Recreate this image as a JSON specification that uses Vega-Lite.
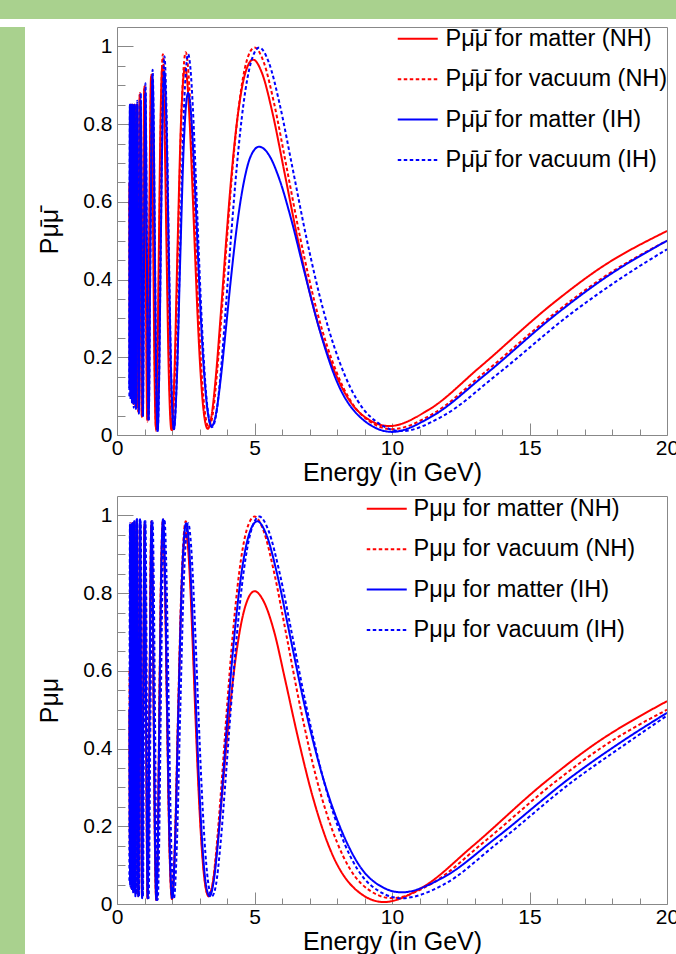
{
  "$schema": "https://vega.github.io/schema/vega-lite/v6.json",
  "background": "#ffffff",
  "padding": 0,
  "spacing": 7,
  "config": {
    "font": "Liberation Sans",
    "view": {"stroke": null},
    "axis": {"grid": false, "labelColor": "#000000", "titleColor": "#000000", "tickColor": "#888888", "tickWidth": 1, "domain": false, "labelFlush": false, "labelOverlap": false, "labelBound": false, "titleFontWeight": "normal", "labelFont": "Liberation Sans", "titleFont": "Liberation Sans"},
    "legend": {"title": null, "orient": "none", "symbolType": "M-4,0H4", "symbolSize": 100, "symbolStrokeWidth": 2, "labelFontSize": 23.5, "labelFont": "Liberation Sans", "labelColor": "#000000", "labelLimit": 400, "rowPadding": 15.4, "padding": 0}
  },
  "datasets": {
    "top": [
      {"s":"a","e":20,"p":0.525},{"s":"a","e":17.6,"p":0.431},{"s":"a","e":15.84,"p":0.338},{"s":"a","e":13.2,"p":0.175},{"s":"a","e":11.314,"p":0.064},{"s":"a","e":9.9,"p":0.023},{"s":"a","e":8.8,"p":0.059},{"s":"a","e":7.92,"p":0.162},{"s":"a","e":7.2,"p":0.314},{"s":"a","e":6.6,"p":0.495},{"s":"a","e":6.092,"p":0.675},{"s":"a","e":5.657,"p":0.828},{"s":"a","e":5.28,"p":0.93},{"s":"a","e":4.95,"p":0.966},{"s":"a","e":4.659,"p":0.93},{"s":"a","e":4.4,"p":0.827},{"s":"a","e":4.168,"p":0.673},{"s":"a","e":3.96,"p":0.491},{"s":"a","e":3.771,"p":0.309},{"s":"a","e":3.6,"p":0.155},{"s":"a","e":3.443,"p":0.052},{"s":"a","e":3.3,"p":0.016},{"s":"a","e":3.168,"p":0.051},{"s":"a","e":3.046,"p":0.152},{"s":"a","e":2.933,"p":0.303},{"s":"a","e":2.829,"p":0.481},{"s":"a","e":2.731,"p":0.658},{"s":"a","e":2.64,"p":0.809},{"s":"a","e":2.555,"p":0.91},{"s":"a","e":2.475,"p":0.945},{"s":"a","e":2.329,"p":0.809},{"s":"a","e":2.2,"p":0.479},{"s":"a","e":2.084,"p":0.149},{"s":"a","e":1.98,"p":0.013},{"s":"a","e":1.886,"p":0.15},{"s":"a","e":1.8,"p":0.482},{"s":"a","e":1.722,"p":0.813},{"s":"a","e":1.65,"p":0.95},{"s":"a","e":1.584,"p":0.813},{"s":"a","e":1.523,"p":0.485},{"s":"a","e":1.467,"p":0.156},{"s":"a","e":1.414,"p":0.02},{"s":"a","e":1.366,"p":0.152},{"s":"a","e":1.32,"p":0.47},{"s":"a","e":1.277,"p":0.788},{"s":"a","e":1.238,"p":0.92},{"s":"a","e":1.165,"p":0.48},{"s":"a","e":1.1,"p":0.04},{"s":"a","e":1.042,"p":0.465},{"s":"a","e":0.99,"p":0.89},{"s":"a","e":0.943,"p":0.47},{"s":"a","e":0.9,"p":0.05},{"s":"a","e":0.861,"p":0.46},{"s":"a","e":0.825,"p":0.875},{"s":"a","e":0.762,"p":0.07},{"s":"a","e":0.707,"p":0.85},{"s":"a","e":0.66,"p":0.09},{"s":"a","e":0.619,"p":0.85},{"s":"a","e":0.582,"p":0.1},{"s":"a","e":0.55,"p":0.85},{"s":"a","e":0.521,"p":0.11},{"s":"a","e":0.495,"p":0.85},{"s":"a","e":0.471,"p":0.13},{"s":"a","e":0.45,"p":0.65},
      {"s":"b","e":20,"p":0.5},{"s":"b","e":17.78,"p":0.41},{"s":"b","e":16,"p":0.318},{"s":"b","e":13.333,"p":0.159},{"s":"b","e":11.429,"p":0.052},{"s":"b","e":10,"p":0.015},{"s":"b","e":8.889,"p":0.052},{"s":"b","e":8,"p":0.159},{"s":"b","e":7.273,"p":0.318},{"s":"b","e":6.667,"p":0.506},{"s":"b","e":6.154,"p":0.694},{"s":"b","e":5.714,"p":0.853},{"s":"b","e":5.333,"p":0.96},{"s":"b","e":5,"p":0.997},{"s":"b","e":4.706,"p":0.96},{"s":"b","e":4.444,"p":0.853},{"s":"b","e":4.211,"p":0.694},{"s":"b","e":4,"p":0.506},{"s":"b","e":3.81,"p":0.318},{"s":"b","e":3.636,"p":0.159},{"s":"b","e":3.478,"p":0.052},{"s":"b","e":3.333,"p":0.02},{"s":"b","e":3.2,"p":0.057},{"s":"b","e":3.077,"p":0.161},{"s":"b","e":2.963,"p":0.318},{"s":"b","e":2.857,"p":0.5025},{"s":"b","e":2.759,"p":0.687},{"s":"b","e":2.667,"p":0.844},{"s":"b","e":2.581,"p":0.948},{"s":"b","e":2.5,"p":0.985},{"s":"b","e":2.353,"p":0.843},{"s":"b","e":2.222,"p":0.499},{"s":"b","e":2.105,"p":0.155},{"s":"b","e":2,"p":0.013},{"s":"b","e":1.905,"p":0.155},{"s":"b","e":1.818,"p":0.497},{"s":"b","e":1.739,"p":0.838},{"s":"b","e":1.667,"p":0.98},{"s":"b","e":1.6,"p":0.838},{"s":"b","e":1.538,"p":0.495},{"s":"b","e":1.481,"p":0.152},{"s":"b","e":1.429,"p":0.01},{"s":"b","e":1.379,"p":0.145},{"s":"b","e":1.333,"p":0.47},{"s":"b","e":1.29,"p":0.795},{"s":"b","e":1.25,"p":0.93},{"s":"b","e":1.176,"p":0.483},{"s":"b","e":1.111,"p":0.035},{"s":"b","e":1.053,"p":0.468},{"s":"b","e":1,"p":0.9},{"s":"b","e":0.952,"p":0.473},{"s":"b","e":0.909,"p":0.045},{"s":"b","e":0.87,"p":0.463},{"s":"b","e":0.833,"p":0.88},{"s":"b","e":0.769,"p":0.06},{"s":"b","e":0.714,"p":0.85},{"s":"b","e":0.667,"p":0.07},{"s":"b","e":0.625,"p":0.85},{"s":"b","e":0.588,"p":0.08},{"s":"b","e":0.556,"p":0.85},{"s":"b","e":0.526,"p":0.1},{"s":"b","e":0.5,"p":0.85},{"s":"b","e":0.476,"p":0.12},{"s":"b","e":0.455,"p":0.6},
      {"s":"c","e":20,"p":0.5},{"s":"c","e":17.78,"p":0.406},{"s":"c","e":16,"p":0.3125},{"s":"c","e":13.333,"p":0.152},{"s":"c","e":11.429,"p":0.047},{"s":"c","e":10,"p":0.008},{"s":"c","e":8.889,"p":0.043},{"s":"c","e":8,"p":0.137},{"s":"c","e":7.364,"p":0.271},{"s":"c","e":6.817,"p":0.419},{"s":"c","e":6.331,"p":0.556},{"s":"c","e":5.907,"p":0.658},{"s":"c","e":5.513,"p":0.722},{"s":"c","e":5.169,"p":0.742},{"s":"c","e":4.865,"p":0.718},{"s":"c","e":4.594,"p":0.644},{"s":"c","e":4.353,"p":0.533},{"s":"c","e":4.135,"p":0.397},{"s":"c","e":3.938,"p":0.258},{"s":"c","e":3.759,"p":0.137},{"s":"c","e":3.596,"p":0.053},{"s":"c","e":3.446,"p":0.023},{"s":"c","e":3.308,"p":0.055},{"s":"c","e":3.181,"p":0.146},{"s":"c","e":3.063,"p":0.283},{"s":"c","e":2.954,"p":0.447},{"s":"c","e":2.852,"p":0.612},{"s":"c","e":2.757,"p":0.752},{"s":"c","e":2.668,"p":0.847},{"s":"c","e":2.584,"p":0.88},{"s":"c","e":2.432,"p":0.753},{"s":"c","e":2.297,"p":0.448},{"s":"c","e":2.176,"p":0.142},{"s":"c","e":2.068,"p":0.015},{"s":"c","e":1.969,"p":0.15},{"s":"c","e":1.88,"p":0.475},{"s":"c","e":1.798,"p":0.8},{"s":"c","e":1.723,"p":0.935},{"s":"c","e":1.654,"p":0.8},{"s":"c","e":1.59,"p":0.473},{"s":"c","e":1.531,"p":0.145},{"s":"c","e":1.477,"p":0.01},{"s":"c","e":1.426,"p":0.143},{"s":"c","e":1.378,"p":0.465},{"s":"c","e":1.334,"p":0.787},{"s":"c","e":1.292,"p":0.92},{"s":"c","e":1.216,"p":0.48},{"s":"c","e":1.149,"p":0.04},{"s":"c","e":1.088,"p":0.46},{"s":"c","e":1.034,"p":0.88},{"s":"c","e":0.985,"p":0.465},{"s":"c","e":0.94,"p":0.05},{"s":"c","e":0.899,"p":0.455},{"s":"c","e":0.861,"p":0.86},{"s":"c","e":0.795,"p":0.06},{"s":"c","e":0.738,"p":0.85},{"s":"c","e":0.689,"p":0.07},{"s":"c","e":0.646,"p":0.85},{"s":"c","e":0.608,"p":0.08},{"s":"c","e":0.574,"p":0.85},{"s":"c","e":0.544,"p":0.09},{"s":"c","e":0.517,"p":0.85},{"s":"c","e":0.492,"p":0.1},{"s":"c","e":0.47,"p":0.85},{"s":"c","e":0.449,"p":0.12},
      {"s":"d","e":20,"p":0.478},{"s":"d","e":18.4,"p":0.407},{"s":"d","e":16.56,"p":0.315},{"s":"d","e":13.8,"p":0.1545},{"s":"d","e":11.829,"p":0.048},{"s":"d","e":10.35,"p":0.01},{"s":"d","e":9.2,"p":0.048},{"s":"d","e":8.28,"p":0.1545},{"s":"d","e":7.527,"p":0.315},{"s":"d","e":6.9,"p":0.5035},{"s":"d","e":6.369,"p":0.692},{"s":"d","e":5.914,"p":0.852},{"s":"d","e":5.52,"p":0.959},{"s":"d","e":5.175,"p":0.997},{"s":"d","e":4.871,"p":0.959},{"s":"d","e":4.6,"p":0.852},{"s":"d","e":4.358,"p":0.692},{"s":"d","e":4.14,"p":0.5035},{"s":"d","e":3.943,"p":0.315},{"s":"d","e":3.764,"p":0.1545},{"s":"d","e":3.6,"p":0.05},{"s":"d","e":3.45,"p":0.02},{"s":"d","e":3.312,"p":0.057},{"s":"d","e":3.185,"p":0.161},{"s":"d","e":3.067,"p":0.316},{"s":"d","e":2.957,"p":0.5},{"s":"d","e":2.855,"p":0.684},{"s":"d","e":2.76,"p":0.84},{"s":"d","e":2.671,"p":0.943},{"s":"d","e":2.588,"p":0.98},{"s":"d","e":2.435,"p":0.839},{"s":"d","e":2.3,"p":0.4975},{"s":"d","e":2.179,"p":0.156},{"s":"d","e":2.07,"p":0.015},{"s":"d","e":1.971,"p":0.156},{"s":"d","e":1.882,"p":0.495},{"s":"d","e":1.8,"p":0.835},{"s":"d","e":1.725,"p":0.975},{"s":"d","e":1.656,"p":0.834},{"s":"d","e":1.592,"p":0.4925},{"s":"d","e":1.533,"p":0.151},{"s":"d","e":1.479,"p":0.01},{"s":"d","e":1.428,"p":0.146},{"s":"d","e":1.38,"p":0.475},{"s":"d","e":1.335,"p":0.804},{"s":"d","e":1.294,"p":0.94},{"s":"d","e":1.218,"p":0.4875},{"s":"d","e":1.15,"p":0.035},{"s":"d","e":1.089,"p":0.47},{"s":"d","e":1.035,"p":0.905},{"s":"d","e":0.986,"p":0.475},{"s":"d","e":0.941,"p":0.045},{"s":"d","e":0.9,"p":0.4625},{"s":"d","e":0.863,"p":0.88},{"s":"d","e":0.796,"p":0.055},{"s":"d","e":0.739,"p":0.86},{"s":"d","e":0.69,"p":0.065},{"s":"d","e":0.647,"p":0.85},{"s":"d","e":0.609,"p":0.07},{"s":"d","e":0.575,"p":0.85},{"s":"d","e":0.545,"p":0.08},{"s":"d","e":0.518,"p":0.85},{"s":"d","e":0.493,"p":0.09},{"s":"d","e":0.47,"p":0.85},{"s":"d","e":0.45,"p":0.1}
    ],
    "bot": [
      {"s":"a","e":20,"p":0.522},{"s":"a","e":17.24,"p":0.405},{"s":"a","e":15.52,"p":0.311},{"s":"a","e":12.933,"p":0.149},{"s":"a","e":11.086,"p":0.042},{"s":"a","e":9.7,"p":0.005},{"s":"a","e":8.622,"p":0.041},{"s":"a","e":7.76,"p":0.139},{"s":"a","e":7.109,"p":0.278},{"s":"a","e":6.567,"p":0.4325},{"s":"a","e":6.108,"p":0.579},{"s":"a","e":5.714,"p":0.701},{"s":"a","e":5.333,"p":0.779},{"s":"a","e":5,"p":0.805},{"s":"a","e":4.706,"p":0.775},{"s":"a","e":4.444,"p":0.694},{"s":"a","e":4.211,"p":0.573},{"s":"a","e":4,"p":0.425},{"s":"a","e":3.81,"p":0.273},{"s":"a","e":3.636,"p":0.1415},{"s":"a","e":3.478,"p":0.052},{"s":"a","e":3.333,"p":0.02},{"s":"a","e":3.2,"p":0.053},{"s":"a","e":3.077,"p":0.149},{"s":"a","e":2.963,"p":0.296},{"s":"a","e":2.857,"p":0.475},{"s":"a","e":2.759,"p":0.656},{"s":"a","e":2.667,"p":0.814},{"s":"a","e":2.581,"p":0.919},{"s":"a","e":2.5,"p":0.955},{"s":"a","e":2.353,"p":0.817},{"s":"a","e":2.222,"p":0.484},{"s":"a","e":2.105,"p":0.151},{"s":"a","e":2,"p":0.013},{"s":"a","e":1.905,"p":0.154},{"s":"a","e":1.818,"p":0.494},{"s":"a","e":1.739,"p":0.834},{"s":"a","e":1.667,"p":0.975},{"s":"a","e":1.6,"p":0.834},{"s":"a","e":1.538,"p":0.4925},{"s":"a","e":1.481,"p":0.151},{"s":"a","e":1.429,"p":0.01},{"s":"a","e":1.379,"p":0.151},{"s":"a","e":1.333,"p":0.4925},{"s":"a","e":1.29,"p":0.834},{"s":"a","e":1.25,"p":0.975},{"s":"a","e":1.176,"p":0.495},{"s":"a","e":1.111,"p":0.015},{"s":"a","e":1.053,"p":0.4925},{"s":"a","e":1,"p":0.97},{"s":"a","e":0.952,"p":0.495},{"s":"a","e":0.909,"p":0.02},{"s":"a","e":0.87,"p":0.495},{"s":"a","e":0.833,"p":0.97},{"s":"a","e":0.769,"p":0.03},{"s":"a","e":0.714,"p":0.97},{"s":"a","e":0.667,"p":0.05},{"s":"a","e":0.625,"p":0.96},{"s":"a","e":0.588,"p":0.06},{"s":"a","e":0.556,"p":0.95},{"s":"a","e":0.526,"p":0.08},{"s":"a","e":0.5,"p":0.96},{"s":"a","e":0.476,"p":0.1},{"s":"a","e":0.455,"p":0.5},
      {"s":"b","e":20,"p":0.5},{"s":"b","e":17.78,"p":0.41},{"s":"b","e":16,"p":0.318},{"s":"b","e":13.333,"p":0.159},{"s":"b","e":11.429,"p":0.052},{"s":"b","e":10,"p":0.015},{"s":"b","e":8.889,"p":0.052},{"s":"b","e":8,"p":0.159},{"s":"b","e":7.273,"p":0.318},{"s":"b","e":6.667,"p":0.506},{"s":"b","e":6.154,"p":0.694},{"s":"b","e":5.714,"p":0.853},{"s":"b","e":5.333,"p":0.96},{"s":"b","e":5,"p":0.997},{"s":"b","e":4.706,"p":0.96},{"s":"b","e":4.444,"p":0.853},{"s":"b","e":4.211,"p":0.694},{"s":"b","e":4,"p":0.506},{"s":"b","e":3.81,"p":0.318},{"s":"b","e":3.636,"p":0.159},{"s":"b","e":3.478,"p":0.052},{"s":"b","e":3.333,"p":0.02},{"s":"b","e":3.2,"p":0.057},{"s":"b","e":3.077,"p":0.161},{"s":"b","e":2.963,"p":0.318},{"s":"b","e":2.857,"p":0.5025},{"s":"b","e":2.759,"p":0.687},{"s":"b","e":2.667,"p":0.844},{"s":"b","e":2.581,"p":0.948},{"s":"b","e":2.5,"p":0.985},{"s":"b","e":2.353,"p":0.843},{"s":"b","e":2.222,"p":0.499},{"s":"b","e":2.105,"p":0.155},{"s":"b","e":2,"p":0.013},{"s":"b","e":1.905,"p":0.156},{"s":"b","e":1.818,"p":0.5015},{"s":"b","e":1.739,"p":0.847},{"s":"b","e":1.667,"p":0.99},{"s":"b","e":1.6,"p":0.8465},{"s":"b","e":1.538,"p":0.5},{"s":"b","e":1.481,"p":0.1535},{"s":"b","e":1.429,"p":0.01},{"s":"b","e":1.379,"p":0.153},{"s":"b","e":1.333,"p":0.4975},{"s":"b","e":1.29,"p":0.842},{"s":"b","e":1.25,"p":0.985},{"s":"b","e":1.176,"p":0.5},{"s":"b","e":1.111,"p":0.015},{"s":"b","e":1.053,"p":0.4975},{"s":"b","e":1,"p":0.98},{"s":"b","e":0.952,"p":0.5},{"s":"b","e":0.909,"p":0.02},{"s":"b","e":0.87,"p":0.5},{"s":"b","e":0.833,"p":0.98},{"s":"b","e":0.769,"p":0.02},{"s":"b","e":0.714,"p":0.985},{"s":"b","e":0.667,"p":0.025},{"s":"b","e":0.625,"p":0.985},{"s":"b","e":0.588,"p":0.03},{"s":"b","e":0.556,"p":0.98},{"s":"b","e":0.526,"p":0.04},{"s":"b","e":0.5,"p":0.98},{"s":"b","e":0.476,"p":0.06},{"s":"b","e":0.455,"p":0.6},
      {"s":"c","e":20,"p":0.492},{"s":"c","e":18.4,"p":0.42},{"s":"c","e":16.56,"p":0.329},{"s":"c","e":13.8,"p":0.171},{"s":"c","e":11.829,"p":0.067},{"s":"c","e":10.35,"p":0.03},{"s":"c","e":9.2,"p":0.066},{"s":"c","e":8.28,"p":0.17},{"s":"c","e":7.491,"p":0.325},{"s":"c","e":6.833,"p":0.5075},{"s":"c","e":6.292,"p":0.69},{"s":"c","e":5.836,"p":0.845},{"s":"c","e":5.44,"p":0.949},{"s":"c","e":5.1,"p":0.985},{"s":"c","e":4.788,"p":0.948},{"s":"c","e":4.511,"p":0.844},{"s":"c","e":4.263,"p":0.687},{"s":"c","e":4.04,"p":0.5025},{"s":"c","e":3.848,"p":0.318},{"s":"c","e":3.673,"p":0.161},{"s":"c","e":3.513,"p":0.057},{"s":"c","e":3.367,"p":0.02},{"s":"c","e":3.22,"p":0.057},{"s":"c","e":3.096,"p":0.161},{"s":"c","e":2.981,"p":0.316},{"s":"c","e":2.875,"p":0.5},{"s":"c","e":2.776,"p":0.684},{"s":"c","e":2.683,"p":0.84},{"s":"c","e":2.597,"p":0.943},{"s":"c","e":2.516,"p":0.98},{"s":"c","e":2.362,"p":0.839},{"s":"c","e":2.231,"p":0.4975},{"s":"c","e":2.113,"p":0.156},{"s":"c","e":2.008,"p":0.015},{"s":"c","e":1.912,"p":0.158},{"s":"c","e":1.825,"p":0.5025},{"s":"c","e":1.746,"p":0.847},{"s":"c","e":1.673,"p":0.99},{"s":"c","e":1.606,"p":0.8465},{"s":"c","e":1.544,"p":0.5},{"s":"c","e":1.487,"p":0.1535},{"s":"c","e":1.434,"p":0.01},{"s":"c","e":1.384,"p":0.153},{"s":"c","e":1.338,"p":0.4975},{"s":"c","e":1.295,"p":0.842},{"s":"c","e":1.255,"p":0.985},{"s":"c","e":1.181,"p":0.5},{"s":"c","e":1.115,"p":0.015},{"s":"c","e":1.057,"p":0.5},{"s":"c","e":1.004,"p":0.985},{"s":"c","e":0.956,"p":0.5},{"s":"c","e":0.913,"p":0.015},{"s":"c","e":0.873,"p":0.5},{"s":"c","e":0.836,"p":0.99},{"s":"c","e":0.772,"p":0.02},{"s":"c","e":0.717,"p":0.99},{"s":"c","e":0.669,"p":0.02},{"s":"c","e":0.627,"p":0.985},{"s":"c","e":0.59,"p":0.03},{"s":"c","e":0.558,"p":0.98},{"s":"c","e":0.528,"p":0.04},{"s":"c","e":0.502,"p":0.97},{"s":"c","e":0.478,"p":0.05},{"s":"c","e":0.456,"p":0.5},
      {"s":"d","e":20,"p":0.485},{"s":"d","e":18.4,"p":0.407},{"s":"d","e":16.56,"p":0.315},{"s":"d","e":13.8,"p":0.1545},{"s":"d","e":11.829,"p":0.048},{"s":"d","e":10.35,"p":0.015},{"s":"d","e":9.2,"p":0.05},{"s":"d","e":8.28,"p":0.1545},{"s":"d","e":7.527,"p":0.315},{"s":"d","e":6.9,"p":0.5035},{"s":"d","e":6.369,"p":0.692},{"s":"d","e":5.914,"p":0.852},{"s":"d","e":5.52,"p":0.959},{"s":"d","e":5.175,"p":0.997},{"s":"d","e":4.871,"p":0.959},{"s":"d","e":4.6,"p":0.852},{"s":"d","e":4.358,"p":0.692},{"s":"d","e":4.14,"p":0.5035},{"s":"d","e":3.943,"p":0.315},{"s":"d","e":3.764,"p":0.1545},{"s":"d","e":3.6,"p":0.05},{"s":"d","e":3.45,"p":0.02},{"s":"d","e":3.312,"p":0.057},{"s":"d","e":3.185,"p":0.161},{"s":"d","e":3.067,"p":0.316},{"s":"d","e":2.957,"p":0.5},{"s":"d","e":2.855,"p":0.684},{"s":"d","e":2.76,"p":0.84},{"s":"d","e":2.671,"p":0.943},{"s":"d","e":2.588,"p":0.98},{"s":"d","e":2.435,"p":0.839},{"s":"d","e":2.3,"p":0.4975},{"s":"d","e":2.179,"p":0.156},{"s":"d","e":2.07,"p":0.015},{"s":"d","e":1.971,"p":0.158},{"s":"d","e":1.882,"p":0.5025},{"s":"d","e":1.8,"p":0.847},{"s":"d","e":1.725,"p":0.99},{"s":"d","e":1.656,"p":0.8465},{"s":"d","e":1.592,"p":0.5},{"s":"d","e":1.533,"p":0.1535},{"s":"d","e":1.479,"p":0.01},{"s":"d","e":1.428,"p":0.153},{"s":"d","e":1.38,"p":0.4975},{"s":"d","e":1.335,"p":0.842},{"s":"d","e":1.294,"p":0.985},{"s":"d","e":1.218,"p":0.5},{"s":"d","e":1.15,"p":0.015},{"s":"d","e":1.089,"p":0.5},{"s":"d","e":1.035,"p":0.985},{"s":"d","e":0.986,"p":0.5},{"s":"d","e":0.941,"p":0.02},{"s":"d","e":0.9,"p":0.5},{"s":"d","e":0.863,"p":0.985},{"s":"d","e":0.796,"p":0.02},{"s":"d","e":0.739,"p":0.99},{"s":"d","e":0.69,"p":0.025},{"s":"d","e":0.647,"p":0.985},{"s":"d","e":0.609,"p":0.03},{"s":"d","e":0.575,"p":0.98},{"s":"d","e":0.545,"p":0.035},{"s":"d","e":0.518,"p":0.98},{"s":"d","e":0.493,"p":0.045},{"s":"d","e":0.47,"p":0.98},{"s":"d","e":0.45,"p":0.06}
    ]
  },
  "vconcat": [
    {
      "data": {"values": []},
      "mark": {"type": "point", "opacity": 0},
      "width": 676,
      "height": 19,
      "view": {"fill": "#a9d18e", "stroke": null}
    },
    {
      "spacing": 12,
      "hconcat": [
        {
          "data": {"values": []},
          "mark": {"type": "point", "opacity": 0},
          "width": 25,
          "height": 928,
          "view": {"fill": "#a9d18e", "stroke": null}
        },
        {
          "bounds": "flush",
          "spacing": 61,
          "resolve": {"scale": {"color": "independent", "strokeDash": "independent"}, "legend": {"color": "independent", "strokeDash": "independent"}},
          "vconcat": [
            {
              "width": 550,
              "height": 408,
              "data": {"name": "top"},
              "view": {"stroke": "#888888", "strokeWidth": 1, "fill": "#ffffff"},
              "resolve": {"axis": {"x": "independent", "y": "independent"}},
              "layer": [
                {
                  "mark": {"type": "line", "interpolate": "monotone", "strokeWidth": 2, "clip": true},
                  "encoding": {
                    "x": {"field": "e", "type": "quantitative", "scale": {"domain": [0, 20], "nice": false, "zero": false},
                      "axis": {"orient": "bottom", "values": [0, 5, 10, 15, 20], "format": "d", "tickSize": -12, "labelPadding": 14, "labelFontSize": 21, "title": "Energy (in GeV)", "titleFontSize": 25, "titlePadding": 2}},
                    "y": {"field": "p", "type": "quantitative", "scale": {"domain": [0, 1.05], "nice": false},
                      "axis": {"orient": "left", "values": [0, 0.2, 0.4, 0.6, 0.8, 1], "format": ".1~f", "tickSize": -16, "labelPadding": 21, "labelFontSize": 21, "title": "P\u03bc\u0304\u03bc\u0304", "titleFontSize": 25, "titlePadding": 20}},
                    "color": {"field": "s", "type": "nominal", "scale": {"domain": ["a", "b", "c", "d"], "range": ["#ff0000", "#ff0000", "#0000ff", "#0000ff"]},
                      "legend": {"legendX": 289, "legendY": 0, "labelOffset": 16, "labelExpr": "datum.label == 'a' ? 'P\u03bc\u0304\u03bc\u0304 for matter (NH)' : datum.label == 'b' ? 'P\u03bc\u0304\u03bc\u0304 for vacuum (NH)' : datum.label == 'c' ? 'P\u03bc\u0304\u03bc\u0304 for matter (IH)' : 'P\u03bc\u0304\u03bc\u0304 for vacuum (IH)'"}},
                    "strokeDash": {"field": "s", "type": "nominal", "scale": {"domain": ["a", "b", "c", "d"], "range": [[1, 0], [3.5, 2.5], [1, 0], [3.5, 2.5]]},
                      "legend": {"legendX": 289, "legendY": 0, "labelOffset": 16, "labelExpr": "datum.label == 'a' ? 'P\u03bc\u0304\u03bc\u0304 for matter (NH)' : datum.label == 'b' ? 'P\u03bc\u0304\u03bc\u0304 for vacuum (NH)' : datum.label == 'c' ? 'P\u03bc\u0304\u03bc\u0304 for matter (IH)' : 'P\u03bc\u0304\u03bc\u0304 for vacuum (IH)'"}}
                  }
                },
                {
                  "mark": {"type": "point", "opacity": 0},
                  "encoding": {
                    "x": {"field": "e", "type": "quantitative", "axis": {"orient": "bottom", "values": [1, 2, 3, 4, 6, 7, 8, 9, 11, 12, 13, 14, 16, 17, 18, 19], "tickSize": -6, "labels": false, "title": null}},
                    "y": {"field": "p", "type": "quantitative", "axis": {"orient": "left", "values": [0.05, 0.1, 0.15, 0.25, 0.3, 0.35, 0.45, 0.5, 0.55, 0.65, 0.7, 0.75, 0.85, 0.9, 0.95], "tickSize": -8, "labels": false, "title": null}}
                  }
                }
              ]
            },
            {
              "width": 550,
              "height": 408,
              "data": {"name": "bot"},
              "view": {"stroke": "#888888", "strokeWidth": 1, "fill": "#ffffff"},
              "resolve": {"axis": {"x": "independent", "y": "independent"}},
              "layer": [
                {
                  "mark": {"type": "line", "interpolate": "monotone", "strokeWidth": 2, "clip": true},
                  "encoding": {
                    "x": {"field": "e", "type": "quantitative", "scale": {"domain": [0, 20], "nice": false, "zero": false},
                      "axis": {"orient": "bottom", "values": [0, 5, 10, 15, 20], "format": "d", "tickSize": -12, "labelPadding": 14, "labelFontSize": 21, "title": "Energy (in GeV)", "titleFontSize": 25, "titlePadding": 2}},
                    "y": {"field": "p", "type": "quantitative", "scale": {"domain": [0, 1.05], "nice": false},
                      "axis": {"orient": "left", "values": [0, 0.2, 0.4, 0.6, 0.8, 1], "format": ".1~f", "tickSize": -16, "labelPadding": 21, "labelFontSize": 21, "title": "P\u03bc\u03bc", "titleFontSize": 25, "titlePadding": 20}},
                    "color": {"field": "s", "type": "nominal", "scale": {"domain": ["a", "b", "c", "d"], "range": ["#ff0000", "#ff0000", "#0000ff", "#0000ff"]},
                      "legend": {"legendX": 258, "legendY": 1, "labelOffset": 15, "labelExpr": "datum.label == 'a' ? 'P\u03bc\u03bc for matter (NH)' : datum.label == 'b' ? 'P\u03bc\u03bc for vacuum (NH)' : datum.label == 'c' ? 'P\u03bc\u03bc for matter (IH)' : 'P\u03bc\u03bc for vacuum (IH)'"}},
                    "strokeDash": {"field": "s", "type": "nominal", "scale": {"domain": ["a", "b", "c", "d"], "range": [[1, 0], [3.5, 2.5], [1, 0], [3.5, 2.5]]},
                      "legend": {"legendX": 258, "legendY": 1, "labelOffset": 15, "labelExpr": "datum.label == 'a' ? 'P\u03bc\u03bc for matter (NH)' : datum.label == 'b' ? 'P\u03bc\u03bc for vacuum (NH)' : datum.label == 'c' ? 'P\u03bc\u03bc for matter (IH)' : 'P\u03bc\u03bc for vacuum (IH)'"}}
                  }
                },
                {
                  "mark": {"type": "point", "opacity": 0},
                  "encoding": {
                    "x": {"field": "e", "type": "quantitative", "axis": {"orient": "bottom", "values": [1, 2, 3, 4, 6, 7, 8, 9, 11, 12, 13, 14, 16, 17, 18, 19], "tickSize": -6, "labels": false, "title": null}},
                    "y": {"field": "p", "type": "quantitative", "axis": {"orient": "left", "values": [0.05, 0.1, 0.15, 0.25, 0.3, 0.35, 0.45, 0.5, 0.55, 0.65, 0.7, 0.75, 0.85, 0.9, 0.95], "tickSize": -8, "labels": false, "title": null}}
                  }
                }
              ]
            }
          ]
        }
      ]
    }
  ]
}
